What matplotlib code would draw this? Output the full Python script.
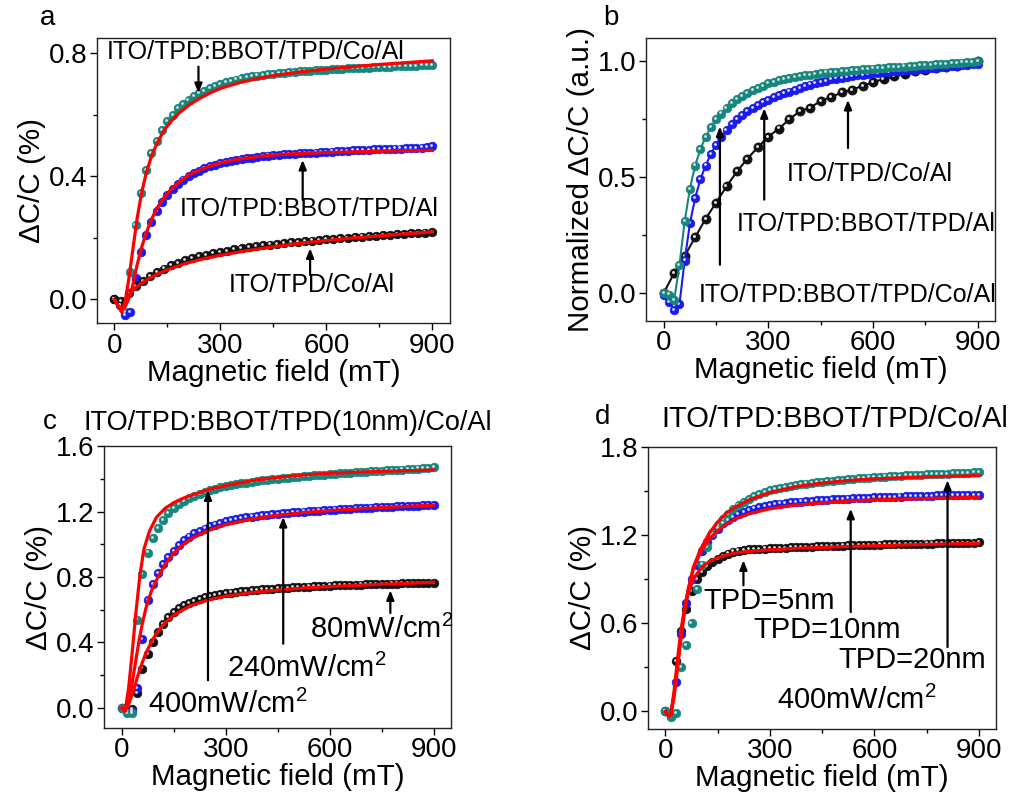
import numpy as np
import matplotlib
matplotlib.use("Agg")
import matplotlib.pyplot as plt
from matplotlib.ticker import MultipleLocator, FormatStrFormatter
from matplotlib.transforms import offset_copy

plt.rcParams['font.family'] = ['Liberation Sans', 'DejaVu Sans']
plt.rcParams['mathtext.fontset'] = 'custom'
plt.rcParams['mathtext.rm'] = 'Liberation Sans'
plt.rcParams['mathtext.it'] = 'Liberation Sans'

# ---------------- data ----------------
field15 = np.arange(0, 901, 15)
field20 = np.arange(0, 901, 20)
field30 = np.arange(0, 901, 30)

# panel a
a_teal = [0.0, -0.02, -0.04, 0.09, 0.24, 0.345, 0.42, 0.475, 0.515, 0.55, 0.578, 0.60, 0.62, 0.635, 0.648,
          0.66, 0.67, 0.678, 0.686, 0.693, 0.70, 0.705, 0.71, 0.714, 0.718, 0.721, 0.724, 0.727, 0.729, 0.731,
          0.733, 0.735, 0.736, 0.738, 0.739, 0.741, 0.742, 0.743, 0.744, 0.745, 0.746, 0.747, 0.748, 0.749,
          0.75, 0.751, 0.752, 0.752, 0.753, 0.754, 0.755, 0.755, 0.756, 0.757, 0.757, 0.758, 0.758, 0.759,
          0.76, 0.76, 0.762]
a_blue = [0.0, -0.02, -0.05, -0.04, 0.07, 0.155, 0.21, 0.252, 0.287, 0.315, 0.338, 0.358, 0.375, 0.389, 0.40,
          0.41, 0.418, 0.426, 0.432, 0.437, 0.442, 0.446, 0.449, 0.453, 0.455, 0.458, 0.46, 0.463, 0.465, 0.467,
          0.468, 0.469, 0.471, 0.472, 0.473, 0.474, 0.475, 0.476, 0.477, 0.478, 0.479, 0.48, 0.481, 0.482,
          0.483, 0.484, 0.485, 0.486, 0.486, 0.487, 0.488, 0.488, 0.489, 0.49, 0.49, 0.491, 0.492, 0.492,
          0.493, 0.496, 0.497]
a_black = [0.0, -0.005, 0.02, 0.042, 0.06, 0.075, 0.089, 0.1, 0.11, 0.119, 0.127, 0.134, 0.14, 0.145, 0.15,
           0.154, 0.158, 0.162, 0.166, 0.169, 0.172, 0.175, 0.178, 0.18, 0.183, 0.185, 0.187, 0.189, 0.191,
           0.193, 0.195, 0.197, 0.199, 0.2, 0.202, 0.204, 0.205, 0.207, 0.208, 0.21, 0.211, 0.213, 0.214,
           0.216, 0.217, 0.22]
a_fit_teal_x = [0, 10, 20, 30, 40, 52, 64, 76, 90, 105, 120, 140, 160, 185, 210, 240, 270, 300, 350, 400, 450,
                525, 600, 675, 750, 825, 900]
a_fit_teal_y = [0, -0.02, -0.04, -0.01, 0.06, 0.16, 0.26, 0.34, 0.41, 0.465, 0.505, 0.548, 0.578, 0.607, 0.63,
                0.652, 0.67, 0.685, 0.703, 0.716, 0.727, 0.739, 0.748, 0.756, 0.763, 0.769, 0.775]
a_fit_blue_x = [0, 10, 20, 30, 40, 52, 64, 76, 90, 105, 120, 140, 160, 185, 210, 240, 270, 300, 350, 400, 450,
                525, 600, 675, 750, 825, 900]
a_fit_blue_y = [0, -0.02, -0.04, -0.025, 0.0, 0.045, 0.11, 0.165, 0.215, 0.26, 0.295, 0.33, 0.357, 0.383,
                0.403, 0.42, 0.433, 0.443, 0.455, 0.463, 0.469, 0.474, 0.477, 0.479, 0.481, 0.483, 0.484]
a_fit_black_x = [0, 10, 20, 30, 45, 60, 80, 100, 125, 150, 200, 250, 300, 375, 450, 525, 600, 675, 750, 825, 900]
a_fit_black_y = [0, -0.02, -0.035, -0.01, 0.02, 0.038, 0.055, 0.069, 0.084, 0.096, 0.116, 0.131, 0.143, 0.158,
                 0.171, 0.182, 0.191, 0.199, 0.206, 0.213, 0.219]

# panel b (normalized)
b_teal = [0.0, -0.007, -0.03, 0.12, 0.31, 0.45, 0.55, 0.62, 0.675, 0.715, 0.75, 0.775, 0.80, 0.82, 0.837,
          0.852, 0.865, 0.876, 0.886, 0.895, 0.905, 0.912, 0.918, 0.923, 0.928, 0.932, 0.936, 0.94, 0.943,
          0.946, 0.949, 0.952, 0.954, 0.956, 0.958, 0.96, 0.962, 0.964, 0.966, 0.968, 0.969, 0.971, 0.972,
          0.974, 0.975, 0.977, 0.978, 0.98, 0.981, 0.983, 0.984, 0.986, 0.987, 0.989, 0.99, 0.992, 0.993,
          0.995, 0.996, 0.998, 1.0]
b_blue = [-0.01, -0.04, -0.075, -0.05, 0.14, 0.3, 0.41, 0.49, 0.55, 0.6, 0.64, 0.675, 0.705, 0.73, 0.75,
          0.768, 0.785, 0.8, 0.812, 0.824, 0.835, 0.845, 0.855, 0.863, 0.87, 0.878, 0.886, 0.893, 0.9, 0.906,
          0.912, 0.917, 0.922, 0.926, 0.93, 0.934, 0.937, 0.94, 0.943, 0.946, 0.948, 0.951, 0.953, 0.955,
          0.957, 0.959, 0.961, 0.963, 0.965, 0.967, 0.969, 0.971, 0.973, 0.975, 0.977, 0.979, 0.981, 0.983,
          0.985, 0.987, 0.99]
b_black = [0.0, 0.086, 0.16, 0.24, 0.32, 0.39, 0.46, 0.525, 0.58, 0.63, 0.675, 0.71, 0.75, 0.785, 0.80, 0.83,
           0.846, 0.866, 0.878, 0.895, 0.91, 0.924, 0.935, 0.947, 0.957, 0.964, 0.97, 0.975, 0.982, 0.99, 1.0]

# panel c (light intensity)
c_teal = [0.0, -0.03, -0.03, 0.54, 0.82, 0.95, 1.04, 1.10, 1.15, 1.19, 1.22, 1.245, 1.265, 1.283, 1.298, 1.31,
          1.322, 1.332, 1.341, 1.349, 1.356, 1.362, 1.368, 1.373, 1.378, 1.383, 1.387, 1.391, 1.395, 1.398,
          1.402, 1.405, 1.408, 1.411, 1.414, 1.417, 1.42, 1.422, 1.425, 1.427, 1.43, 1.432, 1.434, 1.436,
          1.438, 1.44, 1.442, 1.444, 1.446, 1.448, 1.45, 1.452, 1.454, 1.456, 1.458, 1.46, 1.462, 1.464,
          1.466, 1.469, 1.472]
c_blue = [0.0, -0.02, -0.02, 0.12, 0.42, 0.66, 0.755, 0.825, 0.88, 0.925, 0.96, 0.995, 1.025, 1.048, 1.067,
          1.083, 1.097, 1.11, 1.121, 1.131, 1.14, 1.147, 1.154, 1.16, 1.165, 1.17, 1.174, 1.178, 1.182, 1.185,
          1.188, 1.191, 1.194, 1.197, 1.199, 1.201, 1.203, 1.205, 1.207, 1.209, 1.211, 1.213, 1.215, 1.217,
          1.218, 1.22, 1.222, 1.223, 1.225, 1.226, 1.228, 1.229, 1.231, 1.232, 1.234, 1.235, 1.236, 1.237,
          1.238, 1.24, 1.242]
c_black = [0.0, -0.02, -0.01, 0.09, 0.24, 0.33, 0.4, 0.465, 0.515, 0.555, 0.585, 0.61, 0.628, 0.643, 0.655,
           0.666, 0.675, 0.683, 0.69, 0.696, 0.701, 0.705, 0.709, 0.713, 0.716, 0.719, 0.722, 0.725, 0.727,
           0.729, 0.731, 0.733, 0.735, 0.737, 0.739, 0.741, 0.742, 0.744, 0.745, 0.747, 0.748, 0.749, 0.75,
           0.751, 0.752, 0.753, 0.754, 0.755, 0.756, 0.757, 0.758, 0.759, 0.76, 0.76, 0.761, 0.762, 0.762,
           0.763, 0.763, 0.764, 0.765]
c_fit_teal_x = [0, 10, 20, 30, 40, 52, 64, 80, 100, 125, 150, 175, 200, 250, 300, 375, 450, 525, 600, 750, 900]
c_fit_teal_y = [0, -0.02, 0.12, 0.33, 0.56, 0.8, 0.97, 1.08, 1.165, 1.22, 1.255, 1.28, 1.30, 1.335, 1.36, 1.39,
                1.41, 1.425, 1.435, 1.447, 1.455]
c_fit_blue_x = [0, 10, 20, 30, 40, 50, 60, 70, 85, 100, 125, 150, 175, 200, 250, 300, 375, 450, 525, 600, 750, 900]
c_fit_blue_y = [0, -0.02, 0.04, 0.15, 0.28, 0.41, 0.52, 0.61, 0.71, 0.78, 0.875, 0.945, 0.995, 1.033, 1.085,
                1.12, 1.155, 1.178, 1.195, 1.207, 1.225, 1.24]
c_fit_black_x = [0, 10, 20, 30, 40, 50, 60, 70, 85, 100, 125, 150, 175, 200, 250, 300, 375, 450, 525, 600, 750, 900]
c_fit_black_y = [0, -0.02, 0.02, 0.08, 0.15, 0.22, 0.28, 0.335, 0.4, 0.455, 0.52, 0.565, 0.598, 0.625, 0.66,
                 0.683, 0.705, 0.72, 0.733, 0.742, 0.756, 0.768]

# panel d (TPD thickness)
d_teal = [0.0, -0.04, -0.01, 0.3, 0.45, 0.6, 0.83, 1.0, 1.12, 1.215, 1.27, 1.31, 1.345, 1.375, 1.405, 1.427,
          1.447, 1.465, 1.48, 1.493, 1.504, 1.513, 1.521, 1.528, 1.535, 1.541, 1.546, 1.551, 1.556, 1.56,
          1.564, 1.568, 1.571, 1.575, 1.578, 1.581, 1.584, 1.587, 1.59, 1.592, 1.595, 1.597, 1.599, 1.601,
          1.603, 1.605, 1.607, 1.609, 1.61, 1.612, 1.613, 1.615, 1.616, 1.618, 1.619, 1.621, 1.622, 1.624,
          1.625, 1.627, 1.63]
d_blue = [0.0, -0.03, 0.2, 0.53, 0.74, 0.9, 1.0, 1.09, 1.15, 1.2, 1.245, 1.28, 1.305, 1.325, 1.343, 1.358,
          1.37, 1.381, 1.39, 1.398, 1.405, 1.41, 1.415, 1.419, 1.423, 1.426, 1.429, 1.432, 1.435, 1.437, 1.439,
          1.441, 1.443, 1.445, 1.447, 1.449, 1.451, 1.452, 1.454, 1.455, 1.457, 1.458, 1.459, 1.461, 1.462,
          1.463, 1.464, 1.465, 1.466, 1.467, 1.468, 1.469, 1.47, 1.47, 1.471, 1.472, 1.473, 1.473, 1.474,
          1.475, 1.476]
d_black = [0.0, -0.02, 0.34, 0.55, 0.7, 0.82, 0.9, 0.95, 0.99, 1.02, 1.04, 1.058, 1.075, 1.088, 1.095, 1.1,
           1.103, 1.105, 1.107, 1.109, 1.11, 1.111, 1.113, 1.115, 1.117, 1.118, 1.12, 1.121, 1.122, 1.124,
           1.125, 1.126, 1.127, 1.128, 1.129, 1.13, 1.131, 1.132, 1.133, 1.134, 1.135, 1.136, 1.137, 1.137,
           1.138, 1.139, 1.14, 1.14, 1.141, 1.142, 1.143, 1.143, 1.144, 1.145, 1.145, 1.146, 1.147, 1.147,
           1.148, 1.149, 1.15]
d_fit_x = [0, 8, 15, 25, 35, 45, 55, 65, 80, 100, 125, 150, 175, 200, 240, 300, 375, 450, 525, 600, 750, 900]
d_fit_teal_y = [0, -0.03, -0.03, 0.1, 0.3, 0.5, 0.68, 0.82, 0.98, 1.1, 1.21, 1.29, 1.35, 1.39, 1.44, 1.49,
                1.53, 1.555, 1.572, 1.583, 1.597, 1.605]
d_fit_blue_y = [0, -0.03, -0.03, 0.12, 0.33, 0.53, 0.7, 0.83, 0.97, 1.08, 1.17, 1.23, 1.275, 1.31, 1.345,
                1.38, 1.405, 1.42, 1.432, 1.44, 1.45, 1.458]
d_fit_black_y = [0, -0.03, -0.03, 0.14, 0.36, 0.56, 0.7, 0.8, 0.9, 0.97, 1.02, 1.045, 1.065, 1.078, 1.09,
                 1.1, 1.11, 1.117, 1.123, 1.128, 1.137, 1.145]

TEAL = '#16877e'
BLUE = '#1b1bf0'
BLACK = '#111111'
RED = '#ff0000'

fig = plt.figure(figsize=(10.16, 7.94), dpi=100)

TICK_FS = 20
LABEL_FS = 21.3
ANN_AB = 18
ANN_CD = 21
LETTER_FS = 20


def balls(ax, x, y, color, ms=6.2, line=False, z=3):
    if line:
        ax.plot(x, y, '-', color=color, lw=1.5, zorder=z)
    ax.plot(x, y, 'o', ms=ms, mfc=color, mec=color, mew=0.5, ls='none', zorder=z + 0.1)
    tr = offset_copy(ax.transData, fig=fig, x=-1.1, y=1.1, units='dots')
    ax.plot(x, y, 'o', ms=ms * 0.32, mfc='#e4e4e4', mec='none', ls='none', zorder=z + 0.2, transform=tr)


def style(ax, ylim, ymaj, ymin, ylabel):
    ax.set_xlim(-50, 950)
    ax.set_ylim(*ylim)
    ax.xaxis.set_major_locator(MultipleLocator(300))
    ax.xaxis.set_minor_locator(MultipleLocator(150))
    ax.yaxis.set_major_locator(MultipleLocator(ymaj))
    ax.yaxis.set_minor_locator(MultipleLocator(ymin))
    ax.yaxis.set_major_formatter(FormatStrFormatter('%.1f'))
    ax.tick_params(which='major', direction='out', length=5, width=1, labelsize=TICK_FS, pad=2)
    ax.tick_params(which='minor', direction='out', length=3, width=1)
    for s in ax.spines.values():
        s.set_linewidth(1.0)
        s.set_color('#222222')
    ax.set_xlabel('Magnetic field (mT)', fontsize=LABEL_FS, labelpad=0)
    ax.set_ylabel(ylabel, fontsize=LABEL_FS, labelpad=2)


def arrow(ax, xy, xytext):
    ax.annotate('', xy=xy, xytext=xytext,
                arrowprops=dict(arrowstyle='-|>,head_length=0.55,head_width=0.22', color='black', lw=1.6,
                                shrinkA=0, shrinkB=0), zorder=6)


# ---------------- panel a ----------------
ax = fig.add_axes([0.0952, 0.5928, 0.3477, 0.3597])
balls(ax, field15, a_teal, TEAL)
balls(ax, field15, a_blue, BLUE)
balls(ax, field20, a_black, BLACK)
for fx, fy in [(a_fit_teal_x, a_fit_teal_y), (a_fit_blue_x, a_fit_blue_y), (a_fit_black_x, a_fit_black_y)]:
    ax.plot(fx, fy, '-', color=RED, lw=2.3, zorder=5)
style(ax, (-0.078, 0.85), 0.4, 0.2, '\u0394C/C (%)')
ax.text(-22, 0.804, 'ITO/TPD:BBOT/TPD/Co/Al', fontsize=ANN_AB, va='center', ha='left', zorder=7)
arrow(ax, (238, 0.67), (238, 0.756))
ax.text(186, 0.294, 'ITO/TPD:BBOT/TPD/Al', fontsize=ANN_AB, va='center', ha='left', zorder=7)
arrow(ax, (533, 0.453), (533, 0.323))
ax.text(323, 0.047, 'ITO/TPD/Co/Al', fontsize=ANN_AB, va='center', ha='left', zorder=7)
arrow(ax, (554, 0.166), (554, 0.079))
fig.text(48 / 1016, 1 - 18 / 794, 'a', fontsize=LETTER_FS, ha='center', va='center')

# ---------------- panel b ----------------
ax = fig.add_axes([0.6361, 0.5961, 0.3435, 0.3557])
balls(ax, field30, b_black, BLACK, ms=6.6, line=True, z=3)
balls(ax, field15, b_blue, BLUE, ms=6.2, line=True, z=4)
balls(ax, field15, b_teal, TEAL, ms=6.2, line=True, z=5)
style(ax, (-0.12, 1.1), 0.5, 0.25, 'Normalized \u0394C/C (a.u.)')
ax.text(352, 0.514, 'ITO/TPD/Co/Al', fontsize=ANN_AB, va='center', ha='left', zorder=7)
ax.text(209, 0.299, 'ITO/TPD:BBOT/TPD/Al', fontsize=ANN_AB, va='center', ha='left', zorder=7)
ax.text(99, -0.007, 'ITO/TPD:BBOT/TPD/Co/Al', fontsize=ANN_AB, va='center', ha='left', zorder=7)
arrow(ax, (161, 0.719), (161, 0.122))
arrow(ax, (288, 0.798), (288, 0.403))
arrow(ax, (528, 0.834), (528, 0.626))
fig.text(611 / 1016, 1 - 18 / 794, 'b', fontsize=LETTER_FS, ha='center', va='center')

# ---------------- panel c ----------------
ax = fig.add_axes([0.1027, 0.0835, 0.3412, 0.3544])
balls(ax, field15, c_black, BLACK)
balls(ax, field15, c_blue, BLUE)
balls(ax, field15, c_teal, TEAL)
for fx, fy in [(c_fit_teal_x, c_fit_teal_y), (c_fit_blue_x, c_fit_blue_y), (c_fit_black_x, c_fit_black_y)]:
    ax.plot(fx, fy, '-', color=RED, lw=2.3, zorder=5)
style(ax, (-0.122, 1.6), 0.4, 0.2, '\u0394C/C (%)')
ax.text(543, 0.482, '80mW/cm$^2$', fontsize=ANN_CD, va='center', ha='left', zorder=7)
ax.text(303, 0.243, '240mW/cm$^2$', fontsize=ANN_CD, va='center', ha='left', zorder=7)
ax.text(76, 0.023, '400mW/cm$^2$', fontsize=ANN_CD, va='center', ha='left', zorder=7)
arrow(ax, (249, 1.331), (249, 0.168))
arrow(ax, (466, 1.168), (466, 0.392))
arrow(ax, (775, 0.719), (775, 0.58))
fig.text(50 / 1016, 1 - 422 / 794, 'c', fontsize=LETTER_FS, ha='center', va='center')
fig.text(83 / 1016, 1 - 423 / 794, 'ITO/TPD:BBOT/TPD(10nm)/Co/Al', fontsize=19.5, ha='left', va='center')

# ---------------- panel d ----------------
ax = fig.add_axes([0.6378, 0.0822, 0.3428, 0.3548])
balls(ax, field15, d_black, BLACK)
balls(ax, field15, d_blue, BLUE)
balls(ax, field15, d_teal, TEAL)
for fy in [d_fit_teal_y, d_fit_blue_y, d_fit_black_y]:
    ax.plot(d_fit_x, fy, '-', color=RED, lw=2.3, zorder=5)
style(ax, (-0.118, 1.8), 0.6, 0.3, '\u0394C/C (%)')
ax.text(110, 0.751, 'TPD=5nm', fontsize=ANN_CD, va='center', ha='left', zorder=7)
ax.text(253, 0.554, 'TPD=10nm', fontsize=ANN_CD, va='center', ha='left', zorder=7)
ax.text(497, 0.35, 'TPD=20nm', fontsize=ANN_CD, va='center', ha='left', zorder=7)
ax.text(320, 0.077, '400mW/cm$^2$', fontsize=ANN_CD, va='center', ha='left', zorder=7)
arrow(ax, (224, 1.029), (224, 0.858))
arrow(ax, (532, 1.38), (532, 0.676))
arrow(ax, (810, 1.574), (810, 0.438))
fig.text(603 / 1016, 1 - 417 / 794, 'd', fontsize=LETTER_FS, ha='center', va='center')
fig.text(661 / 1016, 1 - 419 / 794, 'ITO/TPD:BBOT/TPD/Co/Al', fontsize=21, ha='left', va='center')

fig.savefig('out.png', dpi=100)
